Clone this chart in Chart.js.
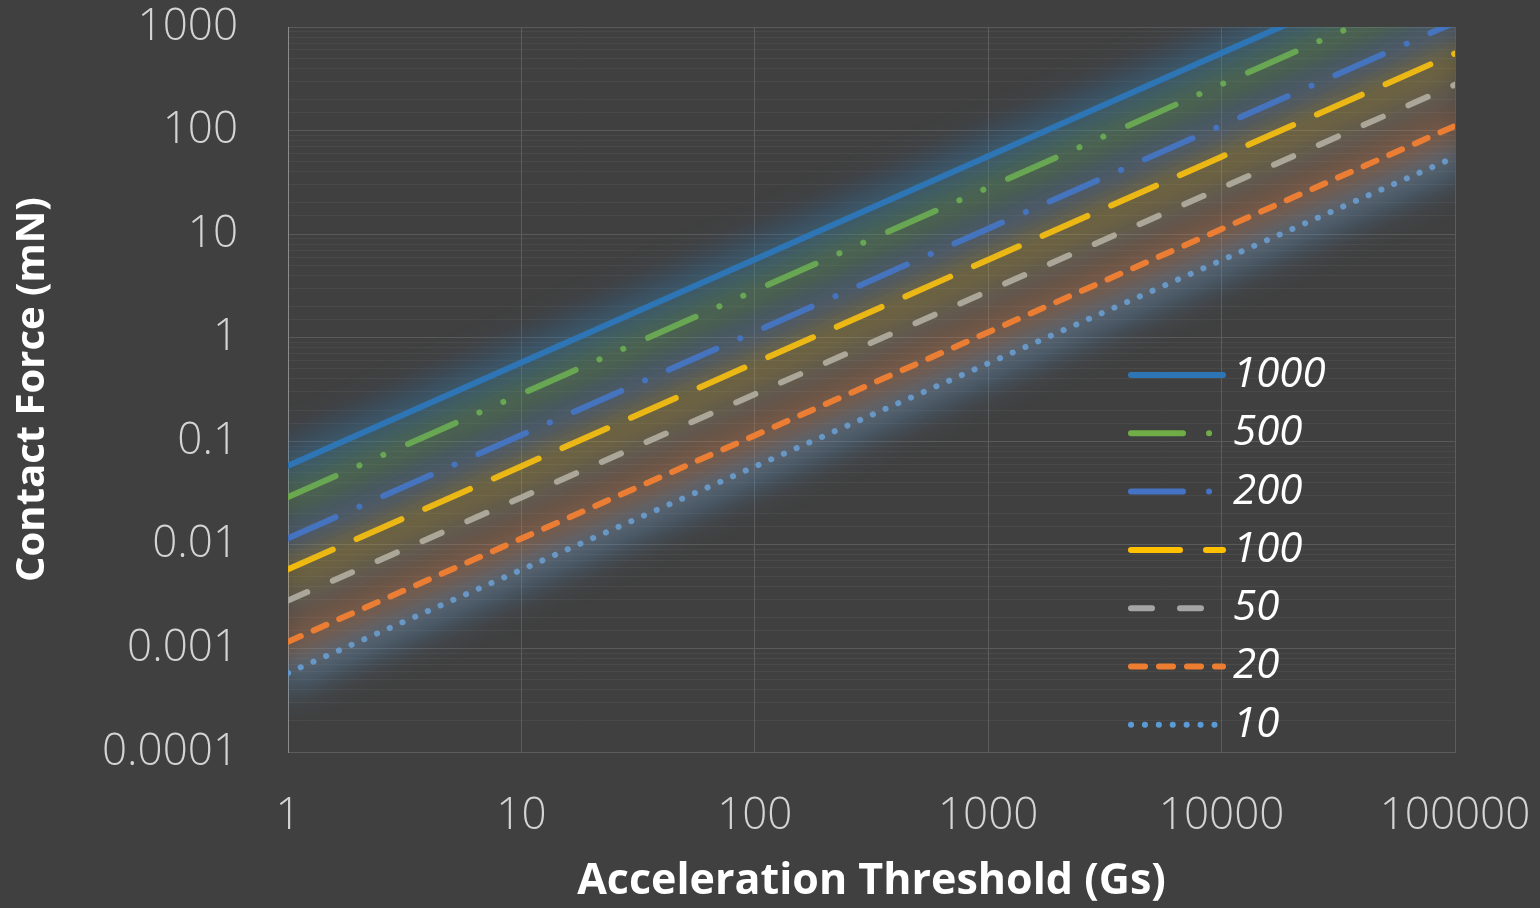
<!DOCTYPE html>
<html>
<head>
<meta charset="utf-8">
<script src="https://cdn.jsdelivr.net/npm/chart.js@4.4.0/dist/chart.umd.min.js"></script>
<style>
  html, body { margin: 0; padding: 0; background: #404040; }
  #wrap { width: 1540px; height: 908px; position: relative; }
</style>
</head>
<body>
<div id="wrap"><canvas id="c"></canvas></div>
<script>
// ---- data ----
const xValues = [1, 10, 100, 1000, 10000, 100000];
const seriesLabels = ['1000', '500', '200', '100', '50', '20', '10'];
const s1000 = [0.058, 0.575, 5.7, 56.5, 560, 5550];
const s500  = [0.029, 0.287, 2.85, 28.2, 280, 2775];
const s200  = [0.0116, 0.115, 1.14, 11.3, 112, 1110];
const s100  = [0.0058, 0.0575, 0.57, 5.65, 56, 555];
const s50   = [0.0029, 0.0287, 0.285, 2.82, 28, 277];
const s20   = [0.00116, 0.0115, 0.114, 1.13, 11.2, 111];
const s10   = [0.00058, 0.00575, 0.057, 0.565, 5.6, 55.5];
const xTickLabels = ['1', '10', '100', '1000', '10000', '100000'];
const yTickLabels = ['0.0001', '0.001', '0.01', '0.1', '1', '10', '100', '1000'];
const yMinExp = -4;

// ---- styles ----
const colors = ['#2e75b6', '#70ad47', '#4472c4', '#ffc000', '#a5a5a5', '#ed7d31', '#5b9bd5'];
const glows  = ['rgba(46,117,182,0.5)', 'rgba(112,173,71,0.42)', 'rgba(68,114,196,0.48)', 'rgba(255,192,0,0.32)', 'rgba(165,165,165,0.28)', 'rgba(237,125,49,0.42)', 'rgba(91,155,213,0.5)'];
const dashes = [[], [52, 26, 0.1, 26, 0.1, 27], [52, 26, 0.1, 26], [49, 26], [21, 28], [14, 14], [0.1, 13.8]];
const seriesData = [s1000, s500, s200, s100, s50, s20, s10];

function toPts(arr) { return arr.map((v, i) => ({ x: xValues[i], y: v })); }
function decadeExp(v) {
  const l = Math.log10(v);
  const r = Math.round(l);
  return Math.abs(l - r) < 1e-6 ? r : null;
}

// soft glow drawn with the library's own line element (wide, blurred, undashed)
const glowPlugin = {
  id: 'glow',
  beforeDatasetDraw(chart, args) {
    const ds = chart.data.datasets[args.index];
    const line = args.meta.dataset;
    if (!line) return;
    const ctx = chart.ctx;
    const a = chart.chartArea;
    const o = line.options;
    const saved = { c: o.borderColor, w: o.borderWidth, d: o.borderDash };
    ctx.save();
    ctx.beginPath();
    ctx.rect(a.left, a.top, a.right - a.left, a.bottom - a.top);
    ctx.clip();
    ctx.filter = 'blur(17px)';
    o.borderColor = ds.glowColor;
    o.borderWidth = 32;
    o.borderDash = [];
    line.draw(ctx, a);
    o.borderColor = saved.c;
    o.borderWidth = saved.w;
    o.borderDash = saved.d;
    ctx.restore();
  }
};

const legendPlugin = {
  id: 'customLegend',
  afterDraw(chart) {
    const ctx = chart.ctx;
    const a = chart.chartArea;
    const x0 = a.left + 843, x1 = a.left + 935, tx = a.left + 945;
    const y0 = a.top + 348, dy = 58.3;
    chart.data.datasets.forEach((ds, i) => {
      const y = y0 + i * dy;
      ctx.save();
      ctx.strokeStyle = ds.borderColor;
      ctx.lineWidth = ds.borderWidth;
      ctx.lineCap = 'round';
      ctx.setLineDash(ds.borderDash || []);
      ctx.beginPath();
      ctx.moveTo(x0, y);
      ctx.lineTo(x1, y);
      ctx.stroke();
      ctx.setLineDash([]);
      ctx.fillStyle = '#ffffff';
      ctx.font = 'italic 42px "Open Sans", sans-serif';
      ctx.textBaseline = 'middle';
      ctx.textAlign = 'left';
      ctx.fillText(ds.label, tx, y);
      ctx.restore();
    });
  }
};

Chart.defaults.font.family = '"Open Sans", sans-serif';

new Chart(document.getElementById('c'), {
  type: 'line',
  data: {
    datasets: seriesLabels.map((lab, i) => ({
      label: lab,
      data: toPts(seriesData[i]),
      borderColor: colors[i],
      glowColor: glows[i],
      borderWidth: 6,
      borderDash: dashes[i],
      borderCapStyle: 'round',
      pointRadius: 0,
      fill: false,
      tension: 0
    }))
  },
  options: {
    responsive: true,
    maintainAspectRatio: false,
    animation: false,
    devicePixelRatio: 1,
    layout: { padding: { left: 0, right: 85, top: 27, bottom: 0 } },
    plugins: {
      legend: { display: false },
      tooltip: { enabled: false }
    },
    scales: {
      x: {
        type: 'logarithmic',
        min: 1,
        max: 100000,
        afterFit(scale) { scale.height = 156; },
        ticks: {
          autoSkip: false,
          maxRotation: 0,
          padding: 0,
          color: '#d4d4d4',
          font: { size: 44, weight: 300 },
          callback(v) { const e = decadeExp(v); return e === null ? '' : xTickLabels[e]; }
        },
        grid: {
          drawTicks: true,
          tickLength: 38,
          tickColor: 'rgba(0,0,0,0)',
          color(ctx) { return ctx.tick && decadeExp(ctx.tick.value) !== null ? '#5c5c5c' : 'rgba(0,0,0,0)'; }
        },
        border: { color: '#5c5c5c' },
        title: {
          display: true,
          text: 'Acceleration Threshold (Gs)',
          color: '#ffffff',
          font: { size: 43, weight: 'bold' },
          padding: { top: 0, bottom: 0 }
        }
      },
      y: {
        type: 'logarithmic',
        min: 0.0001,
        max: 1000,
        afterFit(scale) { scale.width = 288; },
        ticks: {
          autoSkip: false,
          padding: 0,
          color: '#d4d4d4',
          font: { size: 44, weight: 300 },
          callback(v) { const e = decadeExp(v); return e === null ? '' : yTickLabels[e - yMinExp]; }
        },
        grid: {
          drawTicks: true,
          tickLength: 50,
          tickColor: 'rgba(0,0,0,0)',
          color(ctx) { return ctx.tick && decadeExp(ctx.tick.value) !== null ? '#5a5a5a' : 'rgba(255,255,255,0.05)'; }
        },
        border: { color: '#8c8c8c' },
        title: {
          display: true,
          text: 'Contact Force (mN)',
          color: '#ffffff',
          font: { size: 40, weight: 'bold' },
          padding: { top: 9, bottom: 0 }
        }
      }
    }
  },
  plugins: [glowPlugin, legendPlugin]
});
</script>
</body>
</html>
